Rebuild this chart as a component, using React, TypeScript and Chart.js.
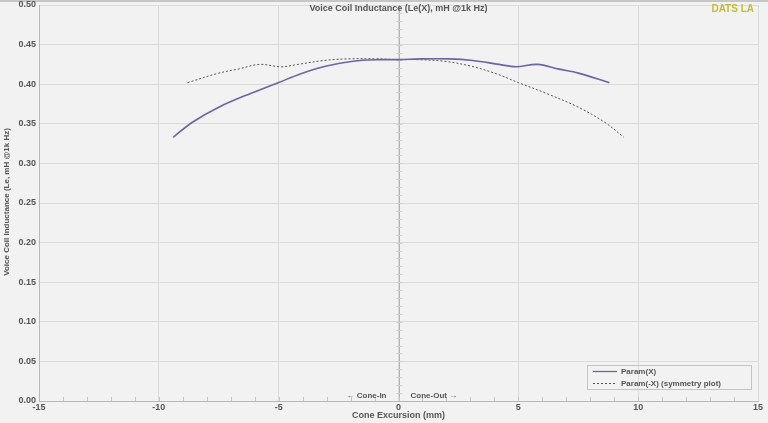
import React, { useEffect, useRef } from "react";
import { Chart, registerables } from "chart.js";

Chart.register(...registerables);

// Param(X): cone excursion (mm) vs inductance (mH)
const paramX = [-9.4, -8.6, -7.5, -6.2, -5.0, -4.1, -3.0, -1.9, -0.8, 0.0, 0.9, 2.1, 3.1, 4.2, 4.9, 5.8, 6.7, 7.5, 8.8];
const paramY = [0.333, 0.352, 0.371, 0.388, 0.402, 0.413, 0.423, 0.429, 0.431, 0.431, 0.432, 0.432, 0.43, 0.425, 0.422, 0.425, 0.419, 0.414, 0.402];

// Param(-X) (symmetry plot)
const symX = [-8.8, -7.5, -6.7, -5.8, -4.9, -4.2, -3.1, -2.1, -0.9, 0.0, 0.8, 1.9, 3.0, 4.1, 5.0, 6.2, 7.5, 8.6, 9.4];
const symY = [0.402, 0.414, 0.419, 0.425, 0.422, 0.425, 0.43, 0.432, 0.432, 0.431, 0.431, 0.429, 0.423, 0.413, 0.402, 0.388, 0.371, 0.352, 0.333];

const xMin = -15;
const xMax = 15;
const xStep = 5;
const yMin = 0;
const yMax = 0.5;
const yStep = 0.05;

const chartTitle = "Voice Coil Inductance (Le(X), mH @1k Hz)";
const brand = "DATS LA";
const xTitle = "Cone Excursion (mm)";
const yTitle = "Voice Coil Inductance (Le, mH @1k Hz)";
const coneIn = "\u2190 Cone-In";
const coneOut = "Cone-Out \u2192";
const legendLabels = ["Param(X)", "Param(-X) (symmetry plot)"];

const FONT = "'Liberation Sans', Arial, sans-serif";
const SOLID_COLOR = "#6a66a4";
const DASH_COLOR = "#555555";

const decor = {
  id: "decor",
  beforeDraw(chart: any) {
    const ctx = chart.ctx;
    ctx.save();
    ctx.fillStyle = "#f2f2f2";
    ctx.fillRect(0, 0, chart.width, chart.height);
    ctx.fillStyle = "#c6c6c6";
    ctx.fillRect(0, 0, chart.width, 2);
    ctx.restore();
  },
  beforeDatasetsDraw(chart: any) {
    const ctx = chart.ctx;
    const xs = chart.scales.x;
    const ys = chart.scales.y;
    const area = chart.chartArea;
    ctx.save();
    // center axis
    const cx = Math.round(xs.getPixelForValue(0)) + 0.5;
    ctx.strokeStyle = "#b4b4b4";
    ctx.lineWidth = 1;
    ctx.beginPath();
    ctx.moveTo(cx, area.top);
    ctx.lineTo(cx, area.bottom);
    ctx.stroke();
    ctx.strokeStyle = "#d0d0d0";
    ctx.beginPath();
    for (let i = 1; i < 50; i++) {
      const py = Math.round(ys.getPixelForValue(i * 0.01)) + 0.5;
      ctx.moveTo(cx - 3, py);
      ctx.lineTo(cx + 3, py);
    }
    ctx.stroke();
    // bottom minor ticks
    ctx.strokeStyle = "#c4c4c4";
    ctx.beginPath();
    for (let v = xMin + 1; v < xMax; v++) {
      const px = Math.round(xs.getPixelForValue(v)) + 0.5;
      ctx.moveTo(px, area.bottom);
      ctx.lineTo(px, area.bottom - 4);
    }
    ctx.stroke();
    ctx.restore();
  },
  afterDraw(chart: any) {
    const ctx = chart.ctx;
    const xs = chart.scales.x;
    const cx = xs.getPixelForValue(0);
    ctx.save();
    ctx.textBaseline = "middle";
    // title
    ctx.fillStyle = "#555555";
    ctx.font = `bold 9px ${FONT}`;
    ctx.textAlign = "center";
    ctx.fillText(chartTitle, cx, 9);
    // brand
    ctx.fillStyle = "#c2bd36";
    ctx.font = `bold 10px ${FONT}`;
    ctx.textAlign = "right";
    ctx.fillText(brand, 754, 9);
    // x title
    ctx.fillStyle = "#555555";
    ctx.font = `bold 9px ${FONT}`;
    ctx.textAlign = "center";
    ctx.fillText(xTitle, cx, 416);
    // cone in / out
    ctx.font = `bold 8px ${FONT}`;
    ctx.textAlign = "right";
    ctx.fillText(coneIn, cx - 12, 396);
    ctx.textAlign = "left";
    ctx.fillText(coneOut, cx + 12, 396);
    // y title
    ctx.save();
    ctx.translate(7, 202);
    ctx.rotate(-Math.PI / 2);
    ctx.textAlign = "center";
    ctx.font = `bold 8px ${FONT}`;
    ctx.fillText(yTitle, 0, 0);
    ctx.restore();
    // legend
    const lx = 587;
    const ly = 365;
    const lw = 164;
    const lh = 24;
    ctx.strokeStyle = "#c4c4c4";
    ctx.lineWidth = 1;
    ctx.strokeRect(lx + 0.5, ly + 0.5, lw, lh);
    ctx.strokeStyle = SOLID_COLOR;
    ctx.lineWidth = 1.3;
    ctx.beginPath();
    ctx.moveTo(593, 371.5);
    ctx.lineTo(617, 371.5);
    ctx.stroke();
    ctx.strokeStyle = DASH_COLOR;
    ctx.lineWidth = 1;
    ctx.setLineDash([2, 2]);
    ctx.beginPath();
    ctx.moveTo(593, 383.5);
    ctx.lineTo(617, 383.5);
    ctx.stroke();
    ctx.setLineDash([]);
    ctx.fillStyle = "#555555";
    ctx.font = `bold 8px ${FONT}`;
    ctx.textAlign = "left";
    ctx.fillText(legendLabels[0], 621, 371.5);
    ctx.fillText(legendLabels[1], 621, 383.5);
    ctx.restore();
  },
};

export default function App() {
  const ref = useRef<HTMLCanvasElement>(null);
  useEffect(() => {
    document.body.style.margin = "0";
    const canvas = ref.current!;
    const chart = new Chart(canvas, {
      type: "line",
      data: {
        datasets: [
          {
            label: legendLabels[0],
            data: paramX.map((x, i) => ({ x, y: paramY[i] })),
            borderColor: SOLID_COLOR,
            borderWidth: 1.6,
            pointRadius: 0,
            tension: 0.35,
            fill: false,
          },
          {
            label: legendLabels[1],
            data: symX.map((x, i) => ({ x, y: symY[i] })),
            borderColor: DASH_COLOR,
            borderWidth: 1,
            borderDash: [2, 2],
            pointRadius: 0,
            tension: 0.35,
            fill: false,
          },
        ],
      },
      options: {
        responsive: false,
        animation: false,
        devicePixelRatio: 1,
        layout: { padding: { top: 5, right: 10, left: 0, bottom: 0 } },
        plugins: {
          legend: { display: false },
          title: { display: false },
          tooltip: { enabled: false },
        },
        scales: {
          x: {
            type: "linear",
            min: xMin,
            max: xMax,
            ticks: {
              stepSize: xStep,
              color: "#555555",
              font: { family: FONT, size: 9, weight: "bold" },
              padding: 1,
              maxRotation: 0,
              callback: (v: any) => String(v),
            },
            grid: { color: "#dadada", drawTicks: false },
            border: { color: "#b8b8b8" },
            afterFit: (s: any) => {
              s.height = 22;
              s.paddingLeft = 0;
              s.paddingRight = 0;
            },
          },
          y: {
            type: "linear",
            min: yMin,
            max: yMax,
            ticks: {
              stepSize: yStep,
              color: "#555555",
              font: { family: FONT, size: 9, weight: "bold" },
              padding: 3,
              callback: (v: any) => Number(v).toFixed(2),
            },
            grid: { color: "#dadada", drawTicks: false },
            border: { color: "#b8b8b8" },
            afterFit: (s: any) => {
              s.width = 39;
              s.paddingTop = 0;
              s.paddingBottom = 0;
            },
          },
        },
      },
      plugins: [decor],
    } as any);
    return () => chart.destroy();
  }, []);
  return (
    <div style={{ position: "absolute", left: 0, top: 0, width: 768, height: 423 }}>
      <canvas ref={ref} width={768} height={423} style={{ display: "block" }} />
    </div>
  );
}
